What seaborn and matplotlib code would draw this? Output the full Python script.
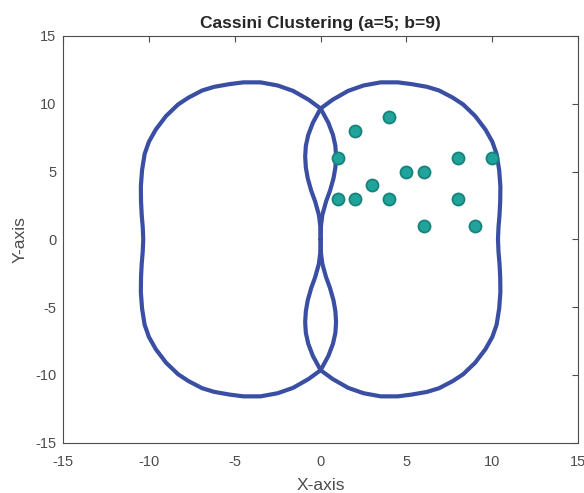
import matplotlib
matplotlib.use("Agg")
import numpy as np
import pandas as pd
import matplotlib.pyplot as plt
import seaborn as sns

# outline of the left oval, upper half
# (from the pinch at the origin, up over the top, down the left side)
oval_x = [0.00, 0.02, 0.10, 0.32, 0.55, 0.75, 0.86, 0.90, 0.86, 0.72, 0.45, 0.00,
          -0.70, -1.60, -2.50, -3.50, -4.50, -5.30, -6.20, -6.90, -7.70, -8.30,
          -9.00, -9.60, -10.00, -10.25, -10.40, -10.47, -10.46, -10.42, -10.36, -10.33]
oval_y = [0.00, 1.00, 1.80, 2.80, 3.60, 4.50, 5.30, 6.10, 6.90, 7.70, 8.60, 9.65,
          10.30, 10.95, 11.35, 11.58, 11.58, 11.45, 11.25, 10.98, 10.45, 9.95,
          9.10, 8.10, 7.20, 6.30, 5.10, 3.90, 2.80, 1.80, 0.90, 0.00]

pts_x = [1, 1, 2, 2, 3, 4, 4, 5, 6, 6, 8, 8, 9, 10]
pts_y = [6, 3, 8, 3, 4, 9, 3, 5, 5, 1, 6, 3, 1, 6]

line_color = "#3a4fa3"
dot_face = "#1fa39b"
dot_edge = "#17837c"

# close the oval with its mirrored lower half, the right oval mirrors the left
full_x = oval_x + oval_x[::-1][1:]
full_y = oval_y + [-v for v in oval_y[::-1][1:]]
curves = pd.concat([
    pd.DataFrame({"x": full_x, "y": full_y, "curve": "left"}),
    pd.DataFrame({"x": [-v for v in full_x], "y": full_y, "curve": "right"}),
], ignore_index=True)
points = pd.DataFrame({"x": pts_x, "y": pts_y})

sns.set_theme(style="white")
plt.rcParams["font.family"] = ["Liberation Sans", "DejaVu Sans"]
plt.rcParams["axes.unicode_minus"] = False

fig = plt.figure(figsize=(5.84, 4.93), dpi=100)
ax = fig.add_axes([0.108, 0.102, 0.882, 0.825])

sns.lineplot(data=curves, x="x", y="y", units="curve", estimator=None, sort=False,
             color=line_color, linewidth=3, solid_joinstyle="round", ax=ax)
sns.scatterplot(data=points, x="x", y="y", s=75, color=dot_face,
                edgecolor=dot_edge, linewidth=1.3, ax=ax, zorder=3)

ax.set_xlim(-15, 15)
ax.set_ylim(-15, 15)
ax.set_xticks(range(-15, 16, 5))
ax.set_yticks(range(-15, 16, 5))
ax.tick_params(direction="in", top=True, right=True, length=4, width=0.8,
               labelsize=10.5, colors="#4d4d4d")
ax.tick_params(axis="x", pad=9)
ax.tick_params(axis="y", pad=5)
for side in ax.spines.values():
    side.set_color("#4d4d4d")
    side.set_linewidth(0.8)

ax.set_title("Cassini Clustering (a=5; b=9)", fontsize=12.5, fontweight="bold",
             color="#262626", pad=6)
ax.set_xlabel("X-axis", fontsize=12.5, color="#4d4d4d", labelpad=6)
ax.set_ylabel("Y-axis", fontsize=12.5, color="#4d4d4d", labelpad=5)

fig.savefig("out.png", dpi=100)
